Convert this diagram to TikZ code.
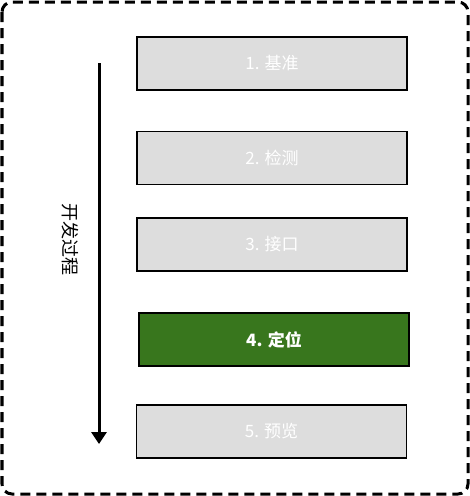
\documentclass[tikz,border=0pt]{standalone}
\usepackage{fontspec}
\setmainfont{Noto Sans CJK SC}
\usetikzlibrary{arrows.meta}

\definecolor{boxgray}{HTML}{DDDDDD}
\definecolor{stepgreen}{HTML}{38761D}

\tikzset{
    stagebox/.style={draw=black, line width=1.6pt, fill=boxgray,
        minimum width=270pt, minimum height=53pt, inner sep=0pt,
        text=white, font=\fontsize{17pt}{20pt}\selectfont},
    activebox/.style={stagebox, fill=stepgreen, font=\fontsize{17pt}{20pt}\selectfont\bfseries}
}

\begin{document}
\begin{tikzpicture}[x=1pt,y=-1pt]
    \useasboundingbox (0,0) rectangle (470,496);
    \draw[line width=3pt, dash pattern=on 10pt off 6pt, rounded corners=10pt]
        (2,2) rectangle (468,494);
    % stages
    \node[stagebox]  (s1) at (272,63.5)  {1. 基准};
    \node[stagebox]  (s2) at (272,158)   {2. 检测};
    \node[stagebox]  (s3) at (272,244.5) {3. 接口};
    \node[activebox] (s4) at (274,339.5) {4. 定位};
    \node[stagebox]  (s5) at (271.5,431.5) {5. 预览};
    % process arrow
    \coordinate (top) at (99,63);
    \coordinate (bottom) at (99,444);
    \draw[line width=3pt, -{Triangle[width=15pt,length=12pt]}] (top) -- (bottom);
    \node[rotate=-90, font=\fontsize{18pt}{20pt}\selectfont] (proc) at (70,239) {开发过程};
\end{tikzpicture}
\end{document}
